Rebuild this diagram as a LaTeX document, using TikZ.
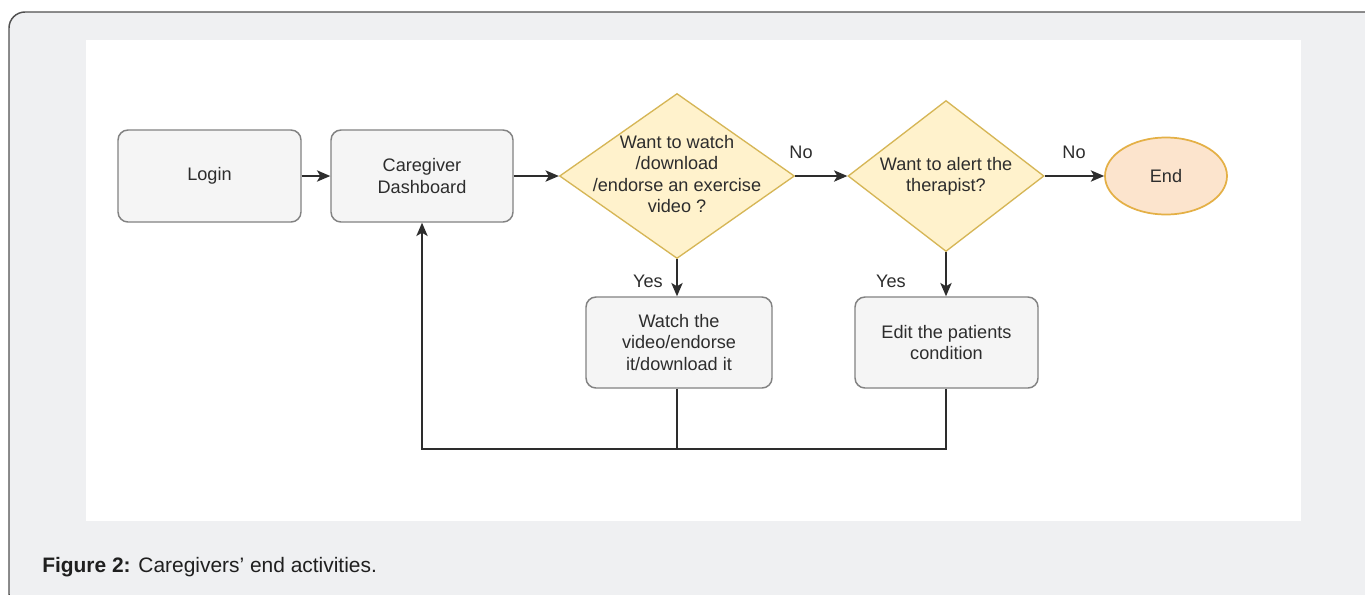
\documentclass[tikz,border=0pt]{standalone}
\usepackage{fontspec}
\setmainfont{Liberation Sans}
\usetikzlibrary{shapes.geometric,arrows.meta}
\definecolor{bggray}{RGB}{239,240,242}
\definecolor{framec}{RGB}{80,80,80}
\definecolor{boxfill}{RGB}{245,245,245}
\definecolor{boxdraw}{RGB}{130,130,130}
\definecolor{decfill}{RGB}{255,242,204}
\definecolor{decdraw}{RGB}{214,182,86}
\definecolor{endfill}{RGB}{252,228,205}
\definecolor{enddraw}{RGB}{228,176,70}
\definecolor{txt}{RGB}{45,45,45}
\definecolor{linec}{RGB}{45,45,45}
\begin{document}
\begin{tikzpicture}[x=0.75pt,y=-0.75pt,
  every node/.style={font=\fontsize{13.6}{16}\selectfont, text=txt},
  procbox/.style={rectangle, rounded corners=7.5pt, draw=boxdraw, line width=1.1pt, fill=boxfill, align=center, inner sep=0pt},
  decision/.style={diamond, draw=decdraw, line width=1pt, fill=decfill, inner sep=0pt},
  endshape/.style={ellipse, draw=enddraw, line width=1.3pt, fill=endfill, inner sep=0pt},
  plain/.style={align=center, inner sep=0pt},
  conn/.style={draw=linec, line width=1.1pt},
  arr/.style={conn, -{Stealth[length=10pt,width=8.5pt,inset=2.5pt]}}
]
\useasboundingbox (0,0) rectangle (1365,594);
\begin{scope}
\clip (0,0) rectangle (1365,594);
\fill[white] (0,0) rectangle (1365,594);
\filldraw[fill=bggray, draw=framec, line width=1.1pt, rounded corners=12pt] (9,12) rectangle (1390,610);
\end{scope}
\fill[white] (86,40) rectangle (1301,521);

% nodes
\node[procbox, minimum width=137.25pt, minimum height=69pt] (login) at (209.5,176) {Login};
\node[procbox, minimum width=136.5pt, minimum height=69pt] (dash) at (422,176) {Caregiver\\Dashboard};
\node[decision, minimum width=176.25pt, minimum height=123.75pt] (d1) at (677,176) {};
\node[plain] (d1t) at (677,174) {Want to watch\\/download\\/endorse an exercise\\video ?};
\node[decision, minimum width=147pt, minimum height=113.25pt] (d2) at (946,176) {};
\node[plain] (d2t) at (946,176) {Want to alert the\\therapist?};
\node[endshape, minimum width=91.5pt, minimum height=57.75pt] (end) at (1166,176) {End};
\node[procbox, minimum width=139.5pt, minimum height=68.25pt] (watch) at (679,342.5) {Watch the\\video/endorse\\it/download it};
\node[procbox, minimum width=137.25pt, minimum height=68.25pt] (edit) at (946.5,342.5) {Edit the patients\\condition};

% labels
\node[plain] (no1) at (801,152) {No};
\node[plain] (no2) at (1074,152) {No};
\node[plain] (yes1) at (648,281) {Yes};
\node[plain] (yes2) at (891,281) {Yes};

% connectors
\coordinate (bot) at (0,449);
\draw[arr] (login.east) -- (dash.west);
\draw[arr] (dash.east) -- (d1.west);
\draw[arr] (d1.east) -- (d2.west);
\draw[arr] (d2.east) -- (end.west);
\draw[arr] (d1.south) -- (d1.south |- watch.north);
\draw[arr] (d2.south) -- (d2.south |- edit.north);
\draw[arr] (d1.south |- watch.south) -- (d1.south |- bot) -| (dash.south);
\draw[conn] (d2.south |- edit.south) -- (d2.south |- bot) -- (d1.south |- bot);

% caption
\node[anchor=base west, inner sep=0pt, text=black!88, font=\fontsize{15.7}{18}\selectfont] (cap) at (42,572) {\textbf{Figure 2:} Caregivers’ end activities.};
\end{tikzpicture}
\end{document}
